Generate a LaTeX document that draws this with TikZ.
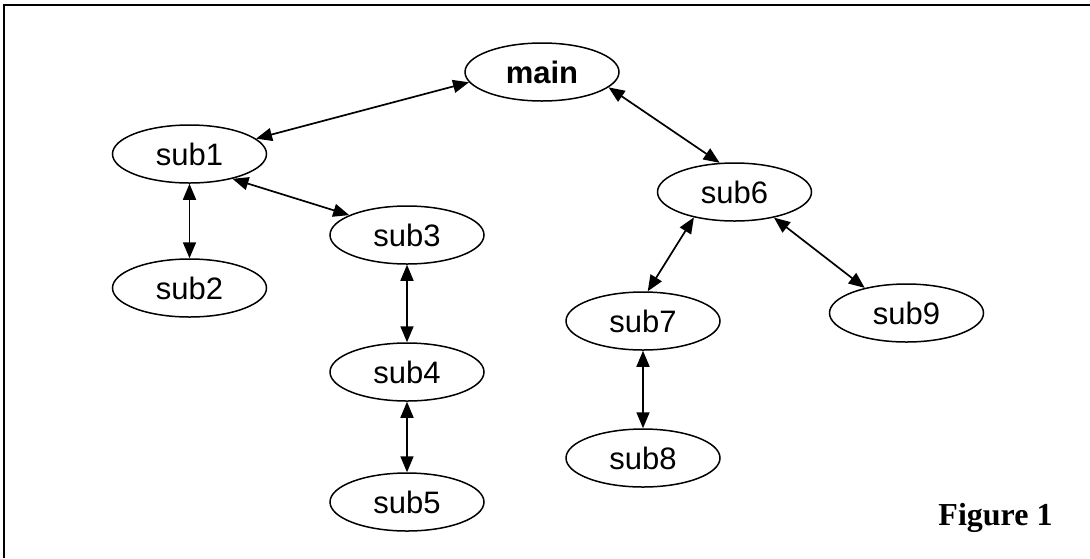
\documentclass[tikz,border=0pt]{standalone}
\usepackage{fontspec}
\setmainfont{Liberation Sans}
\newfontfamily\serifbold{Liberation Serif}
\usetikzlibrary{arrows.meta,shapes.geometric}
\begin{document}
\begin{tikzpicture}[x=0.5pt,y=-0.5pt,
  proc/.style={ellipse,draw,line width=0.75pt,minimum width=77pt,minimum height=29pt,
    inner sep=0pt,font=\fontsize{15.5}{18}\selectfont},
  link/.style={line width=0.85pt,{Triangle[length=8pt,width=6.5pt]}-{Triangle[length=8pt,width=6.5pt]}}]
  \useasboundingbox (0,0) rectangle (1090,558);
  % frame
  \coordinate (fl) at (4,558);
  \coordinate (ftl) at (4,5);
  \coordinate (fr) at (1090,5);
  \draw[line width=1pt] (fl) -- (ftl) -- (fr);
  % nodes
  \node[proc,font=\fontsize{15.5}{18}\selectfont\bfseries] (main) at (542,72) {main};
  \node[proc] (sub1) at (189.5,154) {sub1};
  \node[proc] (sub2) at (189.5,288) {sub2};
  \node[proc] (sub3) at (407,235) {sub3};
  \node[proc] (sub4) at (407,372) {sub4};
  \node[proc] (sub5) at (407,502) {sub5};
  \node[proc] (sub6) at (734.5,192) {sub6};
  \node[proc] (sub7) at (643,321) {sub7};
  \node[proc] (sub8) at (643,458) {sub8};
  \node[proc] (sub9) at (906.5,313) {sub9};
  \node[font=\serifbold\fontsize{16}{19}\selectfont\bfseries] (fig) at (995.5,518) {Figure 1};
  % connectors
  \draw[link] (sub1.13) -- (main.188);
  \draw[link] (sub1.330) -- (sub3.161);
  \draw[link] (sub1.south) -- (sub2.north);
  \draw[link] (main.347) -- (sub6.117);
  \draw[link] (sub6.212) -- (sub7.81);
  \draw[link] (sub6.327) -- (sub9.149);
  \draw[link] (sub3.south) -- (sub4.north);
  \draw[link] (sub4.south) -- (sub5.north);
  \draw[link] (sub7.south) -- (sub8.north);
\end{tikzpicture}
\end{document}
